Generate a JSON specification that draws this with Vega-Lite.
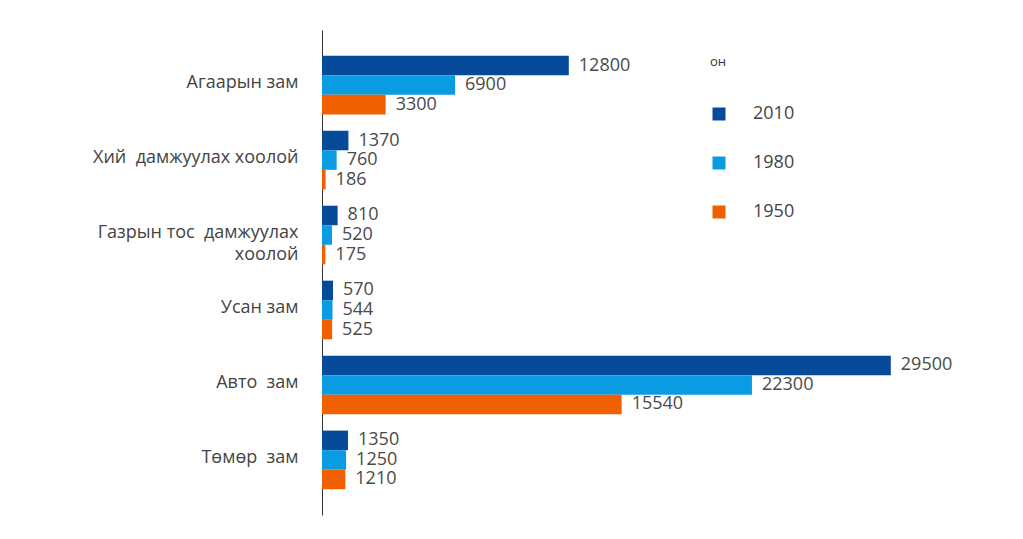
{
  "$schema": "https://vega.github.io/schema/vega-lite/v6.json",
  "width": 617,
  "height": 485,
  "autosize": {"type": "none"},
  "padding": {"left": 322, "top": 30, "right": 84, "bottom": 24},
  "background": "white",
  "config": {"view": {"stroke": null}, "font": "Open Sans"},
  "data": {
    "values": [
      {"cat": "Агаарын зам", "year": "2010", "value": 12800},
      {"cat": "Агаарын зам", "year": "1980", "value": 6900},
      {"cat": "Агаарын зам", "year": "1950", "value": 3300},
      {"cat": "Хий\u00a0 дамжуулах хоолой", "year": "2010", "value": 1370},
      {"cat": "Хий\u00a0 дамжуулах хоолой", "year": "1980", "value": 760},
      {"cat": "Хий\u00a0 дамжуулах хоолой", "year": "1950", "value": 186},
      {"cat": "Газрын тос\u00a0 дамжуулах|хоолой", "year": "2010", "value": 810},
      {"cat": "Газрын тос\u00a0 дамжуулах|хоолой", "year": "1980", "value": 520},
      {"cat": "Газрын тос\u00a0 дамжуулах|хоолой", "year": "1950", "value": 175},
      {"cat": "Усан зам", "year": "2010", "value": 570},
      {"cat": "Усан зам", "year": "1980", "value": 544},
      {"cat": "Усан зам", "year": "1950", "value": 525},
      {"cat": "Авто\u00a0 зам", "year": "2010", "value": 29500},
      {"cat": "Авто\u00a0 зам", "year": "1980", "value": 22300},
      {"cat": "Авто\u00a0 зам", "year": "1950", "value": 15540},
      {"cat": "Төмөр\u00a0 зам", "year": "2010", "value": 1350},
      {"cat": "Төмөр\u00a0 зам", "year": "1980", "value": 1250},
      {"cat": "Төмөр\u00a0 зам", "year": "1950", "value": 1210}
    ]
  },
  "encoding": {
    "y": {
      "field": "cat",
      "type": "nominal",
      "sort": ["Агаарын зам", "Хий\u00a0 дамжуулах хоолой", "Газрын тос\u00a0 дамжуулах|хоолой", "Усан зам", "Авто\u00a0 зам", "Төмөр\u00a0 зам"],
      "scale": {"paddingInner": 0.218, "paddingOuter": 0.344},
      "axis": {
        "title": null,
        "grid": false,
        "ticks": false,
        "domain": true,
        "domainColor": "#333333",
        "domainWidth": 1,
        "labelPadding": 24,
        "labelFontSize": 18,
        "labelColor": "#444444",
        "labelBaseline": "top",
        "labelOffset": -11,
        "labelLineHeight": 22,
        "labelLimit": 320,
        "labelExpr": "split(datum.value, '|')"
      }
    },
    "yOffset": {"field": "year", "type": "nominal", "sort": ["2010", "1980", "1950"], "scale": {"paddingInner": 0}},
    "x": {"field": "value", "type": "quantitative", "scale": {"domain": [0, 32000]}, "axis": null}
  },
  "layer": [
    {
      "mark": {"type": "bar"},
      "encoding": {
        "color": {
          "field": "year",
          "type": "nominal",
          "sort": ["2010", "1980", "1950"],
          "scale": {"domain": ["2010", "1980", "1950"], "range": ["#064a9a", "#0a9be3", "#f06000"]},
          "legend": {
            "orient": "none",
            "legendX": 388,
            "legendY": 26,
            "padding": 0,
            "title": "он",
            "titleFont": "Open Sans",
            "titleFontSize": 13,
            "titleFontWeight": "normal",
            "titleColor": "#333333",
            "titlePadding": 36,
            "labelFontSize": 18,
            "labelColor": "#444444",
            "labelOffset": 25,
            "symbolType": "square",
            "symbolSize": 169,
            "symbolStrokeWidth": 0,
            "rowPadding": 31
          }
        }
      }
    },
    {
      "mark": {"type": "text", "align": "left", "baseline": "middle", "dx": 10, "fontSize": 18, "color": "#4a4a4a"},
      "encoding": {"text": {"field": "value", "type": "quantitative", "format": "d"}}
    }
  ]
}
